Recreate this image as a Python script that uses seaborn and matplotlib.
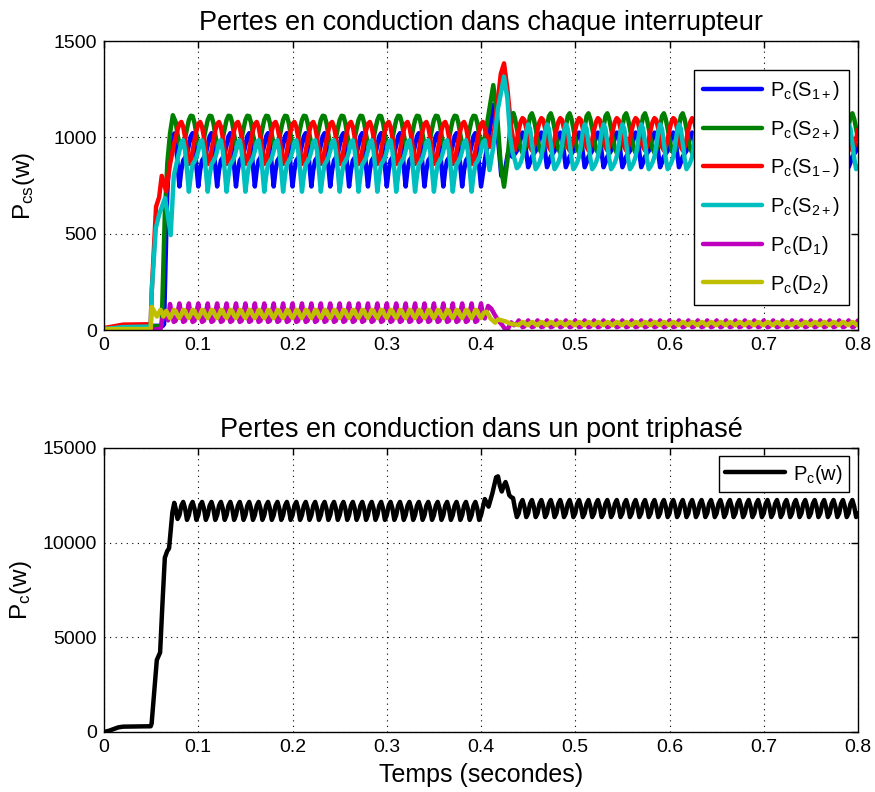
import numpy as np
import pandas as pd
import matplotlib
matplotlib.use("Agg")
import matplotlib.pyplot as plt
import seaborn as sns

# ---------------------------------------------------------------------------
# Sampled loss waveforms (W). Steady-state periods are sampled every 2 ms.
# Switch losses repeat every 20 ms, diode losses every 10 ms, bridge total every 10 ms.
# "a" = before the load step (0.08 s - 0.40 s), "b" = after it (0.44 s - 0.80 s).
# ---------------------------------------------------------------------------
DT = 0.002
T_A0, T_A1 = 0.08, 0.40
T_B0, T_B1 = 0.44, 0.80

# S1+ (blue)
s1p_start_t = [0, 0.02, 0.0625, 0.0637, 0.067, 0.069, 0.072, 0.0745, 0.077, 0.078]
s1p_start_v = [5, 20, 22, 30, 700, 880, 960, 1020, 930, 860]
s1p_cycle_a = [745, 830, 880, 895, 915, 960, 1005, 1022, 965, 850]
s1p_step_t = [0.400, 0.404, 0.408, 0.413, 0.417, 0.4215, 0.425, 0.429, 0.433, 0.436, 0.438]
s1p_step_v = [745, 880, 990, 1168, 1050, 800, 820, 930, 900, 915, 930]
s1p_cycle_b = [960, 1005, 1025, 1000, 920, 845, 870, 900, 915, 930]

# S2+ (green)
s2p_start_t = [0, 0.02, 0.06, 0.0612, 0.0645, 0.0672, 0.070, 0.073, 0.076, 0.078]
s2p_start_v = [8, 18, 20, 30, 600, 870, 1020, 1115, 1080, 1015]
s2p_cycle_a = [965, 950, 958, 995, 1045, 1090, 1112, 1110, 1075, 1015]
s2p_step_t = [0.400, 0.404, 0.408, 0.413, 0.417, 0.421, 0.4244, 0.428, 0.431, 0.4343, 0.436, 0.438]
s2p_step_v = [965, 1000, 1120, 1271, 1120, 850, 744, 880, 1050, 1126, 1100, 1045]
s2p_cycle_b = [990, 940, 920, 935, 985, 1055, 1110, 1125, 1095, 1045]

# S1- (red)
s1m_start_t = [0, 0.02, 0.0495, 0.0506, 0.0552, 0.0585, 0.0612, 0.066, 0.070, 0.074, 0.078]
s1m_start_v = [10, 28, 30, 200, 640, 690, 800, 720, 860, 960, 1040]
s1m_cycle_a = [1070, 1080, 1055, 1000, 930, 862, 870, 930, 985, 1035]
s1m_step_t = [0.400, 0.402, 0.406, 0.4095, 0.414, 0.418, 0.421, 0.4244, 0.428, 0.432, 0.436, 0.438]
s1m_step_v = [1070, 1080, 1010, 951, 1040, 1200, 1330, 1384, 1250, 1050, 934, 980]
s1m_cycle_b = [1040, 1080, 1100, 1090, 1045, 990, 950, 932, 950, 990]

# second S2+ trace (cyan)
s2c_start_t = [0, 0.02, 0.0495, 0.0506, 0.055, 0.0585, 0.0647, 0.0675, 0.0707, 0.074, 0.078]
s2c_start_v = [5, 15, 18, 200, 530, 600, 685, 600, 493, 800, 890]
s2c_cycle_a = [930, 975, 985, 930, 830, 718, 800, 860, 875, 895]
s2c_step_t = [0.400, 0.402, 0.404, 0.406, 0.409, 0.413, 0.418, 0.4244, 0.428, 0.431, 0.4336, 0.436, 0.438]
s2c_step_v = [930, 975, 985, 930, 830, 950, 1150, 1315, 1200, 1000, 918, 880, 840]
s2c_cycle_b = [850, 870, 900, 960, 1030, 1068, 1045, 970, 890, 835]

# D1 (magenta)
d1_start_t = [0, 0.05, 0.06, 0.062, 0.065, 0.068, 0.070, 0.072, 0.074, 0.076, 0.078]
d1_start_v = [0, 2, 5, 60, 85, 50, 135, 80, 42, 48, 92]
d1_cycle_a = [138, 80, 42, 48, 92]
d1_step_t = [0.400, 0.402, 0.404, 0.4075, 0.411, 0.415, 0.419, 0.4225, 0.4255, 0.429, 0.432, 0.435, 0.438]
d1_step_v = [138, 80, 60, 125, 110, 75, 45, 26, 5, 10, 40, 25, 35]
d1_cycle_b = [50, 30, 15, 18, 35]

# D2 (olive yellow)
d2_start_t = [0, 0.0495, 0.0506, 0.053, 0.056, 0.060, 0.063, 0.066, 0.070, 0.072, 0.074, 0.076, 0.078]
d2_start_v = [5, 5, 120, 100, 70, 105, 70, 100, 62, 80, 105, 100, 75]
d2_cycle_a = [62, 80, 105, 100, 75]
d2_step_t = [0.400, 0.403, 0.406, 0.410, 0.415, 0.418, 0.422, 0.426, 0.430, 0.434, 0.438]
d2_step_v = [62, 90, 95, 60, 38, 55, 50, 45, 35, 30, 28]
d2_cycle_b = [25, 35, 42, 38, 28]

# Whole three-phase bridge
tot_start_t = [0, 0.005, 0.01, 0.015, 0.02, 0.03, 0.04, 0.0495, 0.0505, 0.053, 0.056,
               0.0595, 0.062, 0.0645, 0.067, 0.069, 0.0725, 0.0745, 0.076, 0.078]
tot_start_v = [0, 60, 150, 240, 280, 290, 295, 300, 450, 2000, 3800,
               4200, 6800, 9200, 9550, 9700, 11600, 12100, 11800, 11250]
tot_cycle_a = [11450, 11950, 12150, 11800, 11200]
tot_step_t = [0.400, 0.404, 0.408, 0.412, 0.416, 0.418, 0.420, 0.422, 0.424, 0.426,
              0.428, 0.430, 0.432, 0.434, 0.436, 0.438]
tot_step_v = [11450, 12300, 11900, 12600, 13450, 13500, 13000, 12700, 13000, 13200,
              12900, 12500, 12400, 12350, 11800, 11350]
tot_cycle_b = [11550, 12050, 12250, 11900, 11350]

switch_labels = [r"P$_\mathregular{c}$(S$_\mathregular{1+}$)",
                 r"P$_\mathregular{c}$(S$_\mathregular{2+}$)",
                 r"P$_\mathregular{c}$(S$_\mathregular{1-}$)",
                 r"P$_\mathregular{c}$(S$_\mathregular{2+}$) ",
                 r"P$_\mathregular{c}$(D$_\mathregular{1}$)",
                 r"P$_\mathregular{c}$(D$_\mathregular{2}$)"]
switch_colors = ["#0000ff", "#008000", "#ff0000", "#00bfbf", "#bf00bf", "#bfbf00"]
total_label = r"P$_\mathregular{c}$(w)"


def assemble(start_t, start_v, cyc_a, step_t, step_v, cyc_b):
    """Chain start-up samples, repeated periods, step samples and repeated periods."""
    n = len(cyc_a)
    reps_a = int(round((T_A1 - T_A0) / (n * DT)))
    reps_b = int(round((T_B1 - T_B0) / (n * DT)))
    ta = T_A0 + DT * np.arange(reps_a * n)
    va = np.tile(cyc_a, reps_a)
    tb = T_B0 + DT * np.arange(reps_b * n + 1)
    vb = np.append(np.tile(cyc_b, reps_b), cyc_b[0])
    t = np.concatenate([start_t, ta, step_t, tb])
    v = np.concatenate([start_v, va, step_v, vb])
    return t, v


series = [
    (s1p_start_t, s1p_start_v, s1p_cycle_a, s1p_step_t, s1p_step_v, s1p_cycle_b),
    (s2p_start_t, s2p_start_v, s2p_cycle_a, s2p_step_t, s2p_step_v, s2p_cycle_b),
    (s1m_start_t, s1m_start_v, s1m_cycle_a, s1m_step_t, s1m_step_v, s1m_cycle_b),
    (s2c_start_t, s2c_start_v, s2c_cycle_a, s2c_step_t, s2c_step_v, s2c_cycle_b),
    (d1_start_t, d1_start_v, d1_cycle_a, d1_step_t, d1_step_v, d1_cycle_b),
    (d2_start_t, d2_start_v, d2_cycle_a, d2_step_t, d2_step_v, d2_cycle_b),
]

frames = []
for lab, args in zip(switch_labels, series):
    t, v = assemble(*args)
    frames.append(pd.DataFrame({"t": t, "p": v, "signal": lab}))
top_df = pd.concat(frames, ignore_index=True)

tt, tv = assemble(tot_start_t, tot_start_v, tot_cycle_a, tot_step_t, tot_step_v, tot_cycle_b)
bot_df = pd.DataFrame({"t": tt, "p": tv, "signal": total_label})

# ---------------------------------------------------------------------------
sns.set_style("white")
plt.rcParams["font.family"] = ["Liberation Sans", "DejaVu Sans"]
plt.rcParams["mathtext.fontset"] = "custom"
plt.rcParams["mathtext.rm"] = "Liberation Sans"
plt.rcParams["mathtext.it"] = "Liberation Sans"
plt.rcParams["axes.linewidth"] = 1.0
plt.rcParams["text.color"] = "black"
plt.rcParams["axes.labelcolor"] = "black"
plt.rcParams["axes.titlecolor"] = "black"

fig = plt.figure(figsize=(8.75, 7.92), dpi=100)
ax1 = fig.add_axes([0.1189, 0.5833, 0.8617, 0.3649])
ax2 = fig.add_axes([0.1189, 0.0758, 0.8617, 0.3586])

LW = 3.2
sns.lineplot(data=top_df, x="t", y="p", hue="signal", hue_order=switch_labels,
             palette=dict(zip(switch_labels, switch_colors)), estimator=None,
             sort=False, linewidth=LW, ax=ax1, legend=False)
sns.lineplot(data=bot_df, x="t", y="p", color="black", estimator=None,
             sort=False, linewidth=LW, ax=ax2, legend=False)


def style_axes(ax, yticks, ymax):
    ax.set_xlim(0, 0.8)
    ax.set_ylim(0, ymax)
    xt = np.round(np.arange(0, 0.81, 0.1), 1)
    ax.set_xticks(xt)
    ax.set_xticklabels(["0"] + [f"{x:g}" for x in xt[1:]])
    ax.set_yticks(yticks)
    ax.set_yticklabels([f"{y:d}" for y in yticks])
    ax.tick_params(direction="in", length=5, width=1, top=True, right=True,
                   labelsize=14, colors="black", pad=5)
    ax.grid(True, linestyle=(0, (1, 4)), color="black", linewidth=0.8)
    for s in ax.spines.values():
        s.set_color("black")
        s.set_visible(True)
    ax.set_axisbelow(True)
    ax.set_xlabel("")
    ax.set_ylabel("")


style_axes(ax1, [0, 500, 1000, 1500], 1500)
style_axes(ax2, [0, 5000, 10000, 15000], 15000)

ax1.set_title("Pertes en conduction dans chaque interrupteur", fontsize=19.5, pad=8,
              color="black")
ax2.set_title("Pertes en conduction dans un pont triphasé", fontsize=19.5, pad=8,
              color="black")
ax1.set_ylabel(r"P$_\mathregular{cs}$(w)", fontsize=17.5, labelpad=12, color="black")
ax2.set_ylabel(total_label, fontsize=17.5, labelpad=6, color="black")
ax2.set_xlabel("Temps (secondes)", fontsize=18, labelpad=5, color="black")

handles1 = [plt.Line2D([], [], color=c, lw=LW) for c in switch_colors]
leg1 = ax1.legend(handles1, [l.strip() for l in switch_labels], loc="upper right",
                  bbox_to_anchor=(0.988, 0.9), fontsize=14.5, frameon=True,
                  fancybox=False, edgecolor="black", framealpha=1,
                  handlelength=2.9, handletextpad=0.4, labelspacing=0.78,
                  borderpad=0.45, borderaxespad=0)
leg1.get_frame().set_linewidth(1.0)

handles2 = [plt.Line2D([], [], color="black", lw=LW)]
leg2 = ax2.legend(handles2, [total_label], loc="upper right",
                  bbox_to_anchor=(0.988, 0.97), fontsize=14.5, frameon=True,
                  fancybox=False, edgecolor="black", framealpha=1,
                  handlelength=3.0, handletextpad=0.4, borderpad=0.3,
                  borderaxespad=0)
leg2.get_frame().set_linewidth(1.0)

fig.savefig("out.png", dpi=100)
